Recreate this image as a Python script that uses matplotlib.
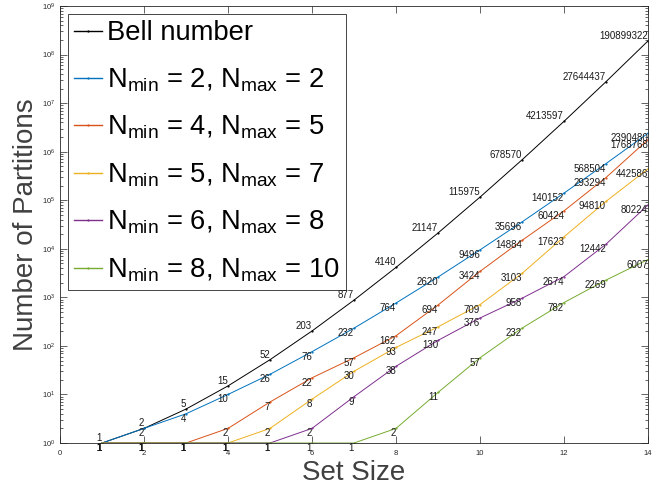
import matplotlib
matplotlib.use("Agg")
import matplotlib.pyplot as plt
import numpy as np

plt.rcParams['font.family'] = ['Liberation Sans', 'DejaVu Sans']
plt.rcParams['mathtext.fontset'] = 'custom'
plt.rcParams['mathtext.rm'] = 'Liberation Sans'
plt.rcParams['mathtext.it'] = 'Liberation Sans:italic'

set_size = [1, 2, 3, 4, 5, 6, 7, 8, 9, 10, 11, 12, 13, 14]
bell = [1, 2, 5, 15, 52, 203, 877, 4140, 21147, 115975, 678570, 4213597, 27644437, 190899322]
n2_2 = [1, 2, 4, 10, 26, 76, 232, 764, 2620, 9496, 35696, 140152, 568504, 2390480]
n4_5 = [1, 1, 1, 2, 7, 22, 57, 162, 694, 3424, 14884, 60424, 293294, 1768768]
n5_7 = [1, 1, 1, 1, 2, 8, 30, 93, 247, 709, 3103, 17623, 94810, 442586]
n6_8 = [1, 1, 1, 1, 1, 2, 9, 38, 130, 376, 958, 2674, 12442, 80224]
n8_10 = [1, 1, 1, 1, 1, 1, 1, 2, 11, 57, 232, 782, 2269, 6007]

series = [
    (bell, 'k', 'Bell number'),
    (n2_2, (0, 0.447, 0.741), r'N$_{\mathrm{min}}$ = 2, N$_{\mathrm{max}}$ = 2'),
    (n4_5, (0.85, 0.325, 0.098), r'N$_{\mathrm{min}}$ = 4, N$_{\mathrm{max}}$ = 5'),
    (n5_7, (0.929, 0.694, 0.125), r'N$_{\mathrm{min}}$ = 5, N$_{\mathrm{max}}$ = 7'),
    (n6_8, (0.494, 0.184, 0.556), r'N$_{\mathrm{min}}$ = 6, N$_{\mathrm{max}}$ = 8'),
    (n8_10, (0.466, 0.674, 0.188), r'N$_{\mathrm{min}}$ = 8, N$_{\mathrm{max}}$ = 10'),
]

fig = plt.figure(figsize=(6.56, 4.93), dpi=100)
ax = fig.add_axes([0.0915, 0.1014, 0.8963, 0.8864])
gray = '#262626'

for i, (vals, col, lab) in enumerate(series):
    ax.plot(set_size, vals, color=col, lw=0.7, marker='.', markersize=1.2, label=lab)
    for x, v in zip(set_size, vals):
        ax.text(x, v, str(v), ha='right', va='bottom' if i == 0 else 'top',
                fontsize=7, color='#1a1a1a', clip_on=False, zorder=6)

ax.set_yscale('log')
ax.set_xlim(0, 14)
ax.set_ylim(1, 1e9)
ax.set_xticks(range(0, 15, 2))
ax.set_yticks([10.0**k for k in range(0, 10)])
ax.tick_params(which='both', direction='in', top=True, right=True, labelsize=5.5,
               colors=gray, width=0.5)
ax.tick_params(which='major', length=5)
ax.tick_params(which='minor', length=2.5)
ax.tick_params(axis='x', pad=5)
for s in ax.spines.values():
    s.set_color(gray)
    s.set_linewidth(0.6)

ax.set_xlabel('Set Size', fontsize=20, color='#404040', labelpad=2)
ax.set_ylabel('Number of Partitions', fontsize=20, color='#404040', labelpad=2)

leg = ax.legend(loc='upper left', fontsize=19.7, handlelength=1.0, handletextpad=0.2,
                borderpad=0.22, labelspacing=0.73, fancybox=False, framealpha=1,
                edgecolor=gray, borderaxespad=0.3)
leg.get_frame().set_linewidth(0.6)
for h in leg.get_lines():
    h.set_linewidth(1.0)

fig.savefig('out.png', dpi=100)
